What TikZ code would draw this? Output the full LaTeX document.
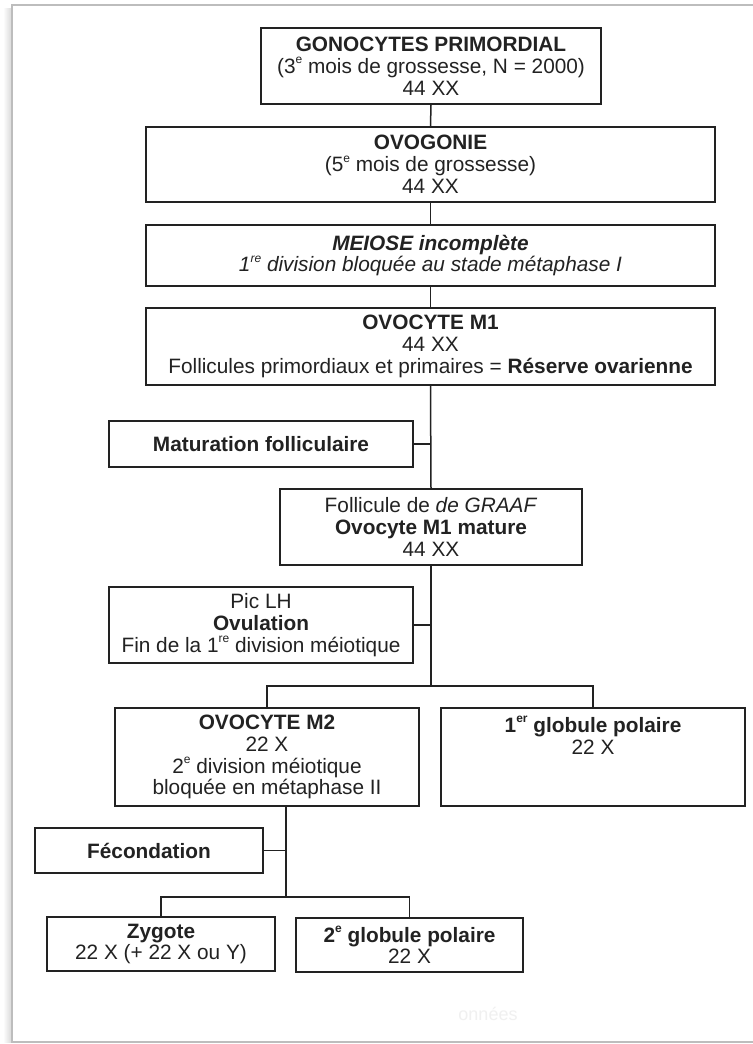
\documentclass[tikz,border=0pt]{standalone}
\usepackage{fontspec}
\setmainfont{Liberation Sans}
\definecolor{ink}{HTML}{222222}
\definecolor{framec}{HTML}{BDBDBD}
\newcommand{\sups}[1]{\raisebox{0.45em}{\fontsize{6}{6}\selectfont #1}}
\begin{document}
\begin{tikzpicture}[x=0.5pt,y=-0.5pt,
  box/.style={draw=ink, line width=0.8pt, align=center, inner sep=0pt,
    font=\fontsize{10.4}{10.9}\selectfont, text=ink},
  link/.style={draw=ink, line width=0.75pt}]
\useasboundingbox (0,0) rectangle (753,1044);
\fill[white] (0,0) rectangle (753,1044);
% outer frame
\shade[left color=white, right color=black!14] (3,8) rectangle (11,1042);
\draw[framec, line width=1.3pt] (760,5) -- (12,5) -- (12,1042) -- (760,1042);

\node[box, minimum width=170pt, minimum height=38pt] (gono) at (431,66)
  {\textbf{GONOCYTES PRIMORDIAL}\\(3\sups{e} mois de grossesse, N = 2000)\\44 XX};
\node[box, minimum width=284.5pt, minimum height=37.5pt] (ovog) at (430.5,164.5)
  {\textbf{OVOGONIE}\\(5\sups{e} mois de grossesse)\\44 XX};
\node[box, minimum width=284.5pt, minimum height=30.5pt] (meiose) at (430.5,255.5)
  {\textit{\textbf{MEIOSE incomplète}}\\\textit{1\sups{re} division bloquée au stade métaphase I}};
\node[box, minimum width=284.5pt, minimum height=38.5pt] (ovm1) at (430.5,346.5)
  {\textbf{OVOCYTE M1}\\44 XX\\Follicules primordiaux et primaires = \textbf{Réserve ovarienne}};
\node[box, minimum width=152pt, minimum height=23pt] (matur) at (261,444)
  {\textbf{Maturation folliculaire}};
\node[box, minimum width=151pt, minimum height=38pt] (graaf) at (431,527)
  {Follicule de \textit{de GRAAF}\\\textbf{Ovocyte M1 mature}\\44 XX};
\node[box, minimum width=152pt, minimum height=38pt] (piclh) at (261,625)
  {Pic LH\\\textbf{Ovulation}\\Fin de la 1\sups{re} division méiotique};
\node[box, minimum width=152pt, minimum height=49pt] (ovm2) at (267,757)
  {\textbf{OVOCYTE M2}\\22 X\\2\sups{e} division méiotique\\bloquée en métaphase II};
\node[box, minimum width=152pt, minimum height=49pt] (glob1) at (593,757)
  {\textbf{1\sups{er} globule polaire}\\22 X\\\phantom{X}\\\phantom{X}};
\node[box, minimum width=114pt, minimum height=22.5pt] (fecond) at (149,850.5)
  {\textbf{Fécondation}};
\node[box, minimum width=114pt, minimum height=27pt] (zygote) at (161,944)
  {\textbf{Zygote}\\22 X (+ 22 X ou Y)};
\node[box, minimum width=113.5pt, minimum height=27pt] (glob2) at (409.5,945)
  {\textbf{2\sups{e} globule polaire}\\22 X};
\node[text=black!6, font=\fontsize{9}{9}\selectfont] (faint) at (488,1014) {onnées};

% connectors
\coordinate (b1) at (431,686);
\coordinate (m2o) at (286,806);
\coordinate (b2) at (286,897);
\draw[link] (gono.south) -- (ovog.north);
\draw[link] (ovog.south) -- (meiose.north);
\draw[link] (meiose.south) -- (ovm1.north);
\draw[link] (ovm1.south) -- (graaf.north);
\draw[link] (graaf.south) -- (b1);
\draw[link] (matur.east) -- (matur.east -| graaf.north);
\draw[link] (piclh.east) -- (piclh.east -| graaf.north);
\draw[link] (ovm2.north) |- (b1) -| (glob1.north);
\draw[link] (m2o) -- (b2);
\draw[link] (fecond.east) -- (fecond.east -| b2);
\draw[link] (zygote.north) |- (b2) -| (glob2.north);
\end{tikzpicture}
\end{document}
